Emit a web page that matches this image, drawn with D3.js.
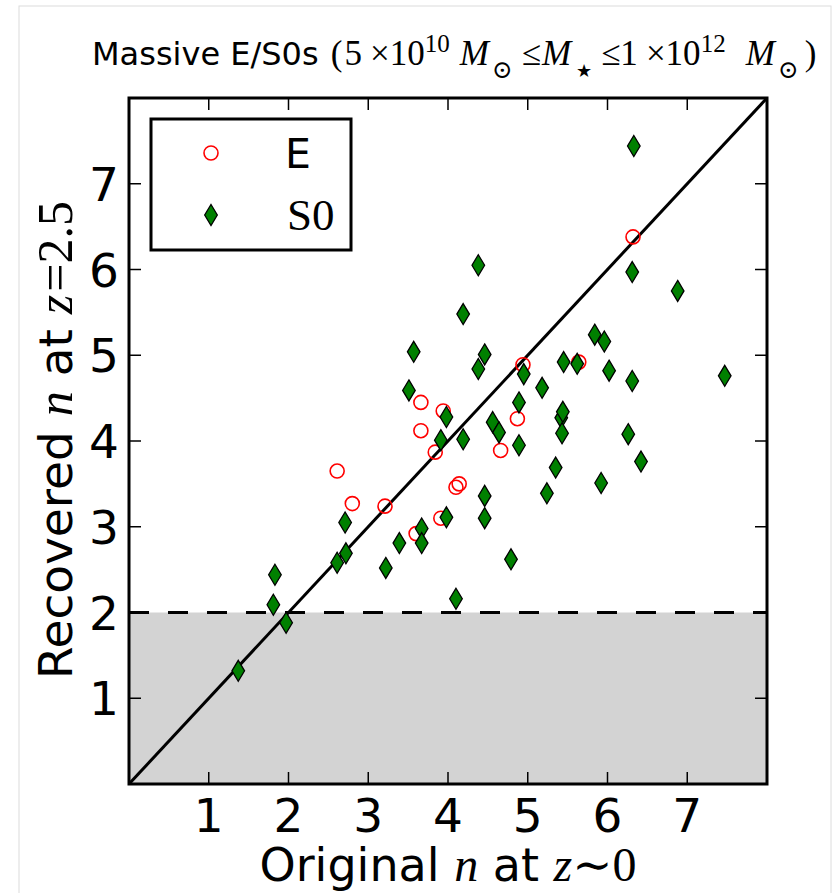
<!DOCTYPE html>
<html>
<head>
<meta charset="utf-8">
<script src="https://cdn.jsdelivr.net/npm/d3@7"></script>
<style>
  html, body { margin: 0; padding: 0; background: #fff; }
  svg { display: block; }
</style>
</head>
<body>
<svg id="chart" width="837" height="893"></svg>
<script>
// Sérsic index: original (z~0) vs recovered (z=2.5), massive E/S0 galaxies
const ellOriginal  = [2.61, 2.80, 3.21, 3.60, 3.66, 3.66, 3.84, 3.94, 3.91, 4.10, 4.14, 4.66, 4.87, 4.94, 5.64, 6.32];
const ellRecovered = [3.65, 3.27, 3.24, 2.92, 4.45, 4.12, 3.87, 4.35, 3.10, 3.46, 3.50, 3.89, 4.26, 4.89, 4.92, 6.38];

const s0Original  = [1.37, 1.81, 1.83, 1.97, 2.61, 2.72, 2.71, 3.22, 3.39, 3.51, 3.57, 3.67, 3.67, 3.91, 3.98, 3.98,
                     4.10, 4.19, 4.19, 4.38, 4.38, 4.46, 4.46, 4.46, 4.56, 4.64, 4.79, 4.89, 4.89, 4.95, 5.18, 5.24,
                     5.35, 5.42, 5.44, 5.43, 5.45, 5.62, 5.84, 5.92, 5.96, 6.02, 6.26, 6.31, 6.31, 6.33, 6.42, 6.88, 7.47];
const s0Recovered = [1.32, 2.09, 2.44, 1.88, 2.58, 2.69, 3.05, 2.52, 2.81, 4.59, 5.04, 2.98, 2.81, 4.01, 4.28, 3.11,
                     2.16, 4.02, 5.48, 6.05, 4.84, 5.01, 3.36, 3.10, 4.22, 4.10, 2.62, 4.45, 3.95, 4.78, 4.62, 3.39,
                     3.69, 4.27, 4.34, 4.09, 4.92, 4.90, 5.24, 3.51, 5.16, 4.82, 4.08, 4.70, 5.97, 7.44, 3.76, 5.75, 4.76];

const xTicks = [1, 2, 3, 4, 5, 6, 7];
const yTicks = [1, 2, 3, 4, 5, 6, 7];
const axisDomain = [0, 8];
const recoveryLimit = 2;

const svg = d3.select("#chart");
const sans = "'DejaVu Sans', sans-serif";
const serif = "'Liberation Serif', 'DejaVu Serif', serif";

const L = 129, R = 767, T = 98, B = 784;
const x = d3.scaleLinear().domain(axisDomain).range([L, R]);
const y = d3.scaleLinear().domain(axisDomain).range([B, T]);

// faint figure frame
svg.append("rect").attr("x", 19).attr("y", 6).attr("width", 812).attr("height", 900)
  .attr("fill", "none").attr("stroke", "#dcdcdc").attr("stroke-width", 1);

const plot = svg.append("g");
plot.append("clipPath").attr("id", "clip").append("rect")
  .attr("x", L).attr("y", T).attr("width", R - L).attr("height", B - T);

const inner = plot.append("g").attr("clip-path", "url(#clip)");

// unreliable region below n = 2
inner.append("rect")
  .attr("x", x(0)).attr("y", y(recoveryLimit))
  .attr("width", x(8) - x(0)).attr("height", y(0) - y(recoveryLimit))
  .attr("fill", "#d3d3d3");

inner.append("line")
  .attr("x1", x(0)).attr("x2", x(8)).attr("y1", y(recoveryLimit)).attr("y2", y(recoveryLimit))
  .attr("stroke", "#000").attr("stroke-width", 3).attr("stroke-dasharray", "20,19");

// one-to-one line
inner.append("line")
  .attr("x1", x(0)).attr("y1", y(0)).attr("x2", x(8)).attr("y2", y(8))
  .attr("stroke", "#000").attr("stroke-width", 3);

const diamond = "M0,-10.5L6.3,0L0,10.5L-6.3,0Z";

inner.selectAll("circle.e").data(d3.range(ellOriginal.length)).join("circle")
  .attr("class", "e")
  .attr("cx", i => x(ellOriginal[i])).attr("cy", i => y(ellRecovered[i])).attr("r", 7)
  .attr("fill", "none").attr("stroke", "#ff0000").attr("stroke-width", 1.6);

inner.selectAll("path.s0").data(d3.range(s0Original.length)).join("path")
  .attr("class", "s0")
  .attr("d", diamond)
  .attr("transform", i => `translate(${x(s0Original[i])},${y(s0Recovered[i])})`)
  .attr("fill", "#008000").attr("stroke", "#000").attr("stroke-width", 1.3);

// ticks on all four sides, pointing inward
const tk = 12;
const ticks = plot.append("g").attr("stroke", "#000").attr("stroke-width", 1.5);
xTicks.forEach(v => {
  ticks.append("line").attr("x1", x(v)).attr("x2", x(v)).attr("y1", B).attr("y2", B - tk);
  ticks.append("line").attr("x1", x(v)).attr("x2", x(v)).attr("y1", T).attr("y2", T + tk);
});
yTicks.forEach(v => {
  ticks.append("line").attr("y1", y(v)).attr("y2", y(v)).attr("x1", L).attr("x2", L + tk);
  ticks.append("line").attr("y1", y(v)).attr("y2", y(v)).attr("x1", R).attr("x2", R - tk);
});

// axes frame
plot.append("rect").attr("x", L).attr("y", T).attr("width", R - L).attr("height", B - T)
  .attr("fill", "none").attr("stroke", "#000").attr("stroke-width", 3);

// tick labels
const tickSize = 47;
svg.append("g").selectAll("text").data(xTicks).join("text")
  .attr("x", d => x(d)).attr("y", 832)
  .attr("text-anchor", "middle")
  .attr("font-family", sans).attr("font-size", tickSize)
  .text(d => d);
svg.append("g").selectAll("text").data(yTicks).join("text")
  .attr("x", 119).attr("y", d => y(d) + 17)
  .attr("text-anchor", "end")
  .attr("font-family", sans).attr("font-size", tickSize)
  .text(d => d);

// axis titles
const xl = svg.append("text").attr("x", 448).attr("y", 881).attr("text-anchor", "middle")
  .attr("font-size", 46).attr("font-family", sans);
xl.append("tspan").text("Original ");
xl.append("tspan").attr("font-family", serif).attr("font-style", "italic").attr("font-size", 48).text("n");
xl.append("tspan").text(" at ");
xl.append("tspan").attr("font-family", serif).attr("font-style", "italic").attr("font-size", 48).text("z");
xl.append("tspan").attr("font-family", serif).attr("font-size", 48).text("∼0");

const yl = svg.append("text").attr("transform", "translate(72,440) rotate(-90)").attr("text-anchor", "middle")
  .attr("font-size", 47).attr("font-family", sans);
yl.append("tspan").text("Recovered ");
yl.append("tspan").attr("font-family", serif).attr("font-style", "italic").attr("font-size", 50).text("n");
yl.append("tspan").text(" at ");
yl.append("tspan").attr("font-family", serif).attr("font-style", "italic").attr("font-size", 50).text("z");
yl.append("tspan").attr("font-family", serif).attr("font-size", 50).attr("dx", 3).text("=2.5");

// title: plain text followed by the stellar-mass range
const title = svg.append("text").attr("x", 92).attr("y", 65)
  .attr("font-size", 32).attr("font-family", sans);
title.append("tspan").text("Massive E/S0s ");
const m = (txt, opts = {}) => {
  const t = title.append("tspan").attr("font-family", serif).attr("font-size", opts.size || 35).text(txt);
  if (opts.italic) t.attr("font-style", "italic");
  if (opts.dy) t.attr("dy", opts.dy);
  if (opts.dx) t.attr("dx", opts.dx);
  return t;
};
m("(", { dx: 2 });
m("5", { dx: 2 });
m("×10", { dx: 8 });
m("10", { size: 25, dy: -13 });
m("M", { italic: true, dx: 10, dy: 13 });
m("⊙", { size: 25, dx: 3, dy: 13 });
m("≤", { dx: 9, dy: -13 });
m("M", { italic: true, dx: 1 });
m("★", { size: 18, dx: 5, dy: 12 });
m("≤1", { dx: 9, dy: -12 });
m("×10", { dx: 8 });
m("12", { size: 25, dy: -13 });
m("M", { italic: true, dx: 20, dy: 13 });
m("⊙", { size: 25, dx: 3, dy: 13 });
m(")", { dx: 6, dy: -13 });

// legend
const lg = svg.append("g");
lg.append("rect").attr("x", 151).attr("y", 119).attr("width", 200).attr("height", 131)
  .attr("fill", "#fff").attr("stroke", "#000").attr("stroke-width", 3);
lg.append("circle").attr("cx", 211).attr("cy", 153).attr("r", 7)
  .attr("fill", "none").attr("stroke", "#ff0000").attr("stroke-width", 1.6);
lg.append("path").attr("d", diamond).attr("transform", "translate(211,215)")
  .attr("fill", "#008000").attr("stroke", "#000").attr("stroke-width", 1.3);
lg.append("text").attr("x", 285).attr("y", 168).attr("font-family", sans).attr("font-size", 41).text("E");
lg.append("text").attr("x", 287).attr("y", 230).attr("font-family", serif).attr("font-size", 45).text("S0");
</script>
</body>
</html>
